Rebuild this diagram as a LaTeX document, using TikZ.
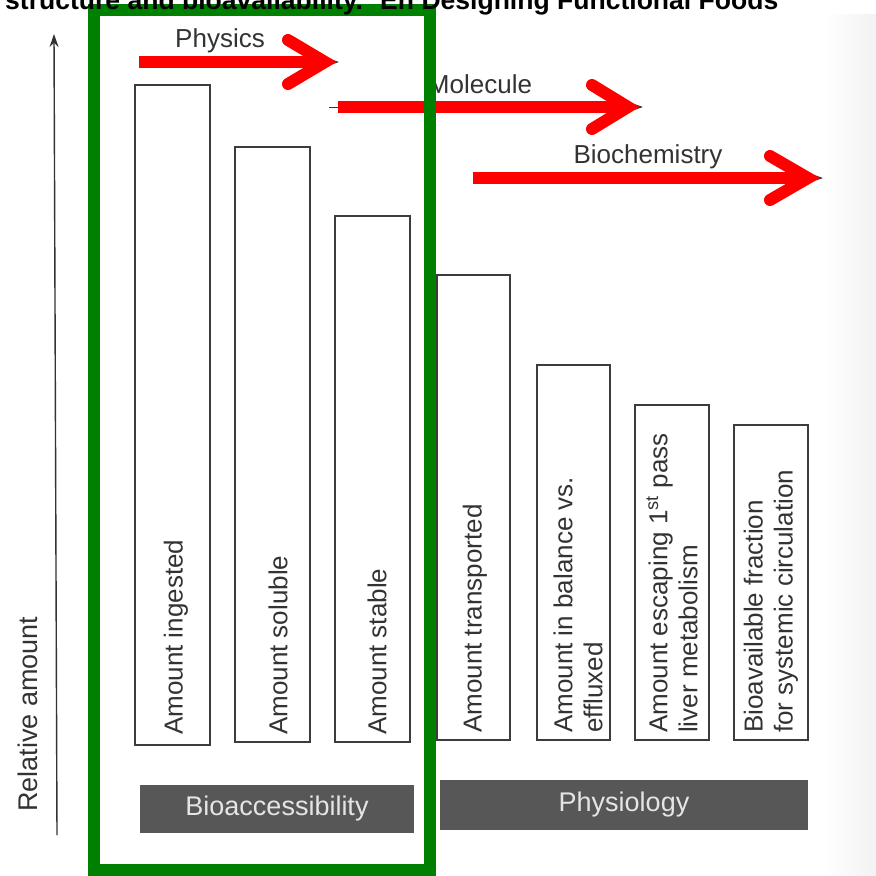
\documentclass[tikz,border=0pt]{standalone}
\usepackage{fontspec}
\setmainfont{Liberation Sans}
\usetikzlibrary{arrows.meta}

\definecolor{scanink}{HTML}{333333}
\definecolor{barline}{HTML}{3C3C3C}
\definecolor{bandfill}{HTML}{575757}
\definecolor{markred}{HTML}{FF0000}
\definecolor{markgreen}{HTML}{008000}

\tikzset{
  bar/.style={draw=barline, line width=1.8pt, inner sep=0pt, outer sep=0pt, anchor=south west},
  barlabel/.style={rotate=90, anchor=west, inner sep=0pt, text=scanink,
    align=left, font=\fontsize{26}{30}\selectfont},
  band/.style={fill=bandfill, inner sep=0pt, outer sep=0pt, anchor=north west},
  bandlabel/.style={inner sep=0pt, text=white!90!black, font=\fontsize{27}{30}\selectfont},
  flowlabel/.style={anchor=base, inner sep=0pt, text=scanink,
    font=\fontsize{26}{30}\selectfont},
  axisline/.style={draw=scanink, line width=1.4pt,
    -{Stealth[length=13pt,width=9pt]}},
  shaft/.style={draw=markred, line width=12pt, line cap=butt},
  chevron/.style={draw=markred, line width=12pt, line cap=round, line join=miter},
  oldarrow/.style={draw=scanink, line width=1pt, -{Stealth[length=9pt,width=6pt]}},
  focusbox/.style={draw=markgreen, line width=12pt, inner sep=0pt, outer sep=0pt, anchor=north west}
}

\begin{document}
\begin{tikzpicture}[x=1pt,y=-1pt]
\useasboundingbox (0,0) rectangle (876,876);
\clip (0,0) rectangle (876,876);
\fill[white] (0,0) rectangle (876,876);
\shade[left color=white, right color=black!5] (825,14) rectangle (876,876);

% vertical axis
\coordinate (ax0) at (57,835);
\coordinate (ax1) at (54,34);
\draw[axisline] (ax0) -- (ax1);
\node[rotate=90, anchor=west, inner sep=0pt, text=scanink,
  font=\fontsize{27}{30}\selectfont] (ylab) at (28,812) {Relative amount};

% bars
\node[bar, minimum width=75pt, minimum height=660pt] (b1) at (135,745) {};
\node[bar, minimum width=75pt, minimum height=595pt] (b2) at (235,742) {};
\node[bar, minimum width=75pt, minimum height=526pt] (b3) at (335,742) {};
\node[bar, minimum width=73pt, minimum height=465pt] (b4) at (437,740) {};
\node[bar, minimum width=73pt, minimum height=375pt] (b5) at (537,740) {};
\node[bar, minimum width=74pt, minimum height=335pt] (b6) at (635,740) {};
\node[bar, minimum width=74pt, minimum height=315pt] (b7) at (734,740) {};

% bar labels
\node[barlabel] (t1) at (176,735) {Amount ingested};
\node[barlabel] (t2) at (278,735) {Amount soluble};
\node[barlabel] (t3) at (377,735) {Amount stable};
\node[barlabel] (t4) at (475,733) {Amount transported};
\node[barlabel] (t5) at (578,733) {Amount in balance vs.\\effluxed};
\node[barlabel] (t6) at (672,733) {Amount escaping 1\textsuperscript{st} pass\\liver metabolism};
\node[barlabel] (t7) at (771,733) {Bioavailable fraction\\for systemic circulation};

% category bands
\node[band, minimum width=274pt, minimum height=48pt] (g1) at (140,785) {};
\node[bandlabel] (g1t) at (g1.center) {Bioaccessibility};
\node[band, minimum width=368pt, minimum height=50pt] (g2) at (440,780) {};
\node[bandlabel] (g2t) at (g2.center) {Physiology};

% flow labels
\node[flowlabel] (l1) at (220,47) {Physics};
\node[flowlabel] (l2) at (480,93) {Molecule};
\node[flowlabel] (l3) at (648,163) {Biochemistry};

% printed arrows under the highlights
\coordinate (o1a) at (300,62);  \coordinate (o1b) at (339,62);
\coordinate (o2a) at (329,107); \coordinate (o2b) at (643,107);
\coordinate (o3a) at (480,178); \coordinate (o3b) at (823,178);
\draw[oldarrow] (o1a) -- (o1b);
\draw[oldarrow] (o2a) -- (o2b);
\draw[oldarrow] (o3a) -- (o3b);

% red highlight arrows
\coordinate (p1s) at (139,62);  \coordinate (p1t) at (325,62);
\coordinate (p1u) at (288,40);  \coordinate (p1d) at (288,84);
\coordinate (p2s) at (338,107); \coordinate (p2t) at (628,107);
\coordinate (p2u) at (592,85);  \coordinate (p2d) at (592,129);
\coordinate (p3s) at (473,178); \coordinate (p3t) at (808,178);
\coordinate (p3u) at (770,156); \coordinate (p3d) at (770,200);
\draw[shaft] (p1s) -- ([xshift=-8pt]p1t);
\draw[chevron] (p1u) -- (p1t) -- (p1d);
\draw[shaft] (p2s) -- ([xshift=-8pt]p2t);
\draw[chevron] (p2u) -- (p2t) -- (p2d);
\draw[shaft] (p3s) -- ([xshift=-8pt]p3t);
\draw[chevron] (p3u) -- (p3t) -- (p3d);

% green frame around the bioaccessibility stage
\node[focusbox, minimum width=336pt, minimum height=860pt] (focus) at (94,10) {};

% running head of the page
\node[anchor=base west, inner sep=0pt] (title) at (5,9)
  {\resizebox{773pt}{!}{\bfseries structure and bioavailability.’ En Designing Functional Foods}};
\end{tikzpicture}
\end{document}
